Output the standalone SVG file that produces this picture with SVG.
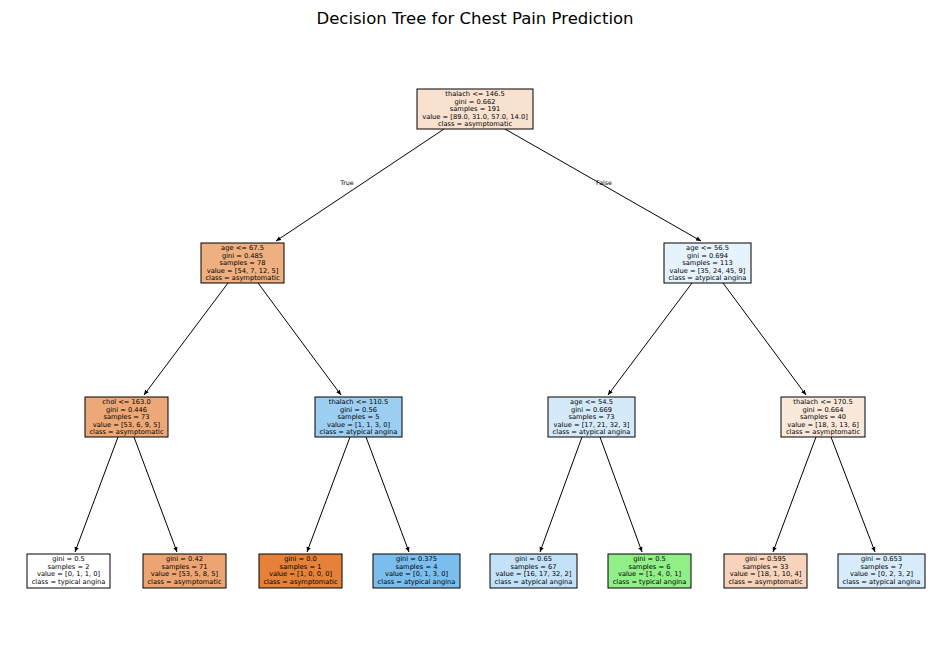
<svg xmlns="http://www.w3.org/2000/svg" width="950" height="658" viewBox="0 0 950 658">
<style>
.box{stroke:#000;stroke-width:1}
.t{font-family:"DejaVu Sans",sans-serif;font-size:6.7px;fill:#000;text-anchor:middle}
.e{stroke:#000;stroke-width:1;fill:none;marker-end:url(#ah)}
.lbl{font-family:"DejaVu Sans",sans-serif;font-size:6.3px;fill:#000;text-anchor:middle}
.title{font-family:"DejaVu Sans",sans-serif;font-size:16.5px;fill:#000;text-anchor:middle}
</style>
<defs>
<marker id="ah" markerWidth="6" markerHeight="6" refX="5" refY="3" orient="auto" markerUnits="userSpaceOnUse">
<path d="M0,0.8 L5,3 L0,5.2 Z" fill="#000"/>
</marker>
</defs>
<rect width="950" height="658" fill="#fff"/>
<text class="title" x="475" y="24">Decision Tree for Chest Pain Prediction</text>
<g id="connectors">
<path class="e" d="M444,129 L276,241"/>
<path class="e" d="M505,129 L701,241"/>
<path class="e" d="M228,283 L144,395"/>
<path class="e" d="M258,283 L341,395"/>
<path class="e" d="M692,283 L608,395"/>
<path class="e" d="M723,283 L806,395"/>
<path class="e" d="M118,437 L75,552"/>
<path class="e" d="M134,437 L177,552"/>
<path class="e" d="M350,437 L307,552"/>
<path class="e" d="M366,437 L409,552"/>
<path class="e" d="M582,437 L540,552"/>
<path class="e" d="M600,437 L642,552"/>
<path class="e" d="M816,437 L773,552"/>
<path class="e" d="M831,437 L875,552"/>
<text class="lbl" x="347" y="185">True</text>
<text class="lbl" x="604" y="185">False</text>
</g>
<g id="root"><rect class="box" x="417" y="89" width="116" height="40" fill="#f9e1d0"/>
<text class="t"><tspan x="475" y="96">thalach &lt;= 146.5</tspan><tspan x="475" y="103.6">gini = 0.662</tspan><tspan x="475" y="111.2">samples = 191</tspan><tspan x="475" y="118.8">value = [89.0, 31.0, 57.0, 14.0]</tspan><tspan x="475" y="126.4">class = asymptomatic</tspan></text></g>
<g id="n1"><rect class="box" x="201" y="243" width="83" height="40" fill="#eeaf81"/>
<text class="t"><tspan x="242.5" y="250">age &lt;= 67.5</tspan><tspan x="242.5" y="257.6">gini = 0.485</tspan><tspan x="242.5" y="265.2">samples = 78</tspan><tspan x="242.5" y="272.8">value = [54, 7, 12, 5]</tspan><tspan x="242.5" y="280.4">class = asymptomatic</tspan></text></g>
<g id="n2"><rect class="box" x="664" y="243" width="87" height="40" fill="#e6f3fc"/>
<text class="t"><tspan x="707.5" y="250">age &lt;= 56.5</tspan><tspan x="707.5" y="257.6">gini = 0.694</tspan><tspan x="707.5" y="265.2">samples = 113</tspan><tspan x="707.5" y="272.8">value = [35, 24, 45, 9]</tspan><tspan x="707.5" y="280.4">class = atypical angina</tspan></text></g>
<g id="n3"><rect class="box" x="85" y="397" width="83" height="40" fill="#eda877"/>
<text class="t"><tspan x="126.5" y="404">chol &lt;= 163.0</tspan><tspan x="126.5" y="411.6">gini = 0.446</tspan><tspan x="126.5" y="419.2">samples = 73</tspan><tspan x="126.5" y="426.8">value = [53, 6, 9, 5]</tspan><tspan x="126.5" y="434.4">class = asymptomatic</tspan></text></g>
<g id="n4"><rect class="box" x="315" y="397" width="87" height="40" fill="#9ccef2"/>
<text class="t"><tspan x="358.5" y="404">thalach &lt;= 110.5</tspan><tspan x="358.5" y="411.6">gini = 0.56</tspan><tspan x="358.5" y="419.2">samples = 5</tspan><tspan x="358.5" y="426.8">value = [1, 1, 3, 0]</tspan><tspan x="358.5" y="434.4">class = atypical angina</tspan></text></g>
<g id="n5"><rect class="box" x="548" y="397" width="87" height="40" fill="#d5eaf9"/>
<text class="t"><tspan x="591.5" y="404">age &lt;= 54.5</tspan><tspan x="591.5" y="411.6">gini = 0.669</tspan><tspan x="591.5" y="419.2">samples = 73</tspan><tspan x="591.5" y="426.8">value = [17, 21, 32, 3]</tspan><tspan x="591.5" y="434.4">class = atypical angina</tspan></text></g>
<g id="n6"><rect class="box" x="781" y="397" width="84" height="40" fill="#fae8da"/>
<text class="t"><tspan x="823" y="404">thalach &lt;= 170.5</tspan><tspan x="823" y="411.6">gini = 0.664</tspan><tspan x="823" y="419.2">samples = 40</tspan><tspan x="823" y="426.8">value = [18, 3, 13, 6]</tspan><tspan x="823" y="434.4">class = asymptomatic</tspan></text></g>
<g id="l1"><rect class="box" x="27" y="554" width="83" height="34" fill="#ffffff"/>
<text class="t"><tspan x="68.5" y="561">gini = 0.5</tspan><tspan x="68.5" y="568.6">samples = 2</tspan><tspan x="68.5" y="576.2">value = [0, 1, 1, 0]</tspan><tspan x="68.5" y="583.8">class = typical angina</tspan></text></g>
<g id="l2"><rect class="box" x="143" y="554" width="83" height="34" fill="#eca572"/>
<text class="t"><tspan x="184.5" y="561">gini = 0.42</tspan><tspan x="184.5" y="568.6">samples = 71</tspan><tspan x="184.5" y="576.2">value = [53, 5, 8, 5]</tspan><tspan x="184.5" y="583.8">class = asymptomatic</tspan></text></g>
<g id="l3"><rect class="box" x="259" y="554" width="83" height="34" fill="#e58139"/>
<text class="t"><tspan x="300.5" y="561">gini = 0.0</tspan><tspan x="300.5" y="568.6">samples = 1</tspan><tspan x="300.5" y="576.2">value = [1, 0, 0, 0]</tspan><tspan x="300.5" y="583.8">class = asymptomatic</tspan></text></g>
<g id="l4"><rect class="box" x="373" y="554" width="87" height="34" fill="#7bbeee"/>
<text class="t"><tspan x="416.5" y="561">gini = 0.375</tspan><tspan x="416.5" y="568.6">samples = 4</tspan><tspan x="416.5" y="576.2">value = [0, 1, 3, 0]</tspan><tspan x="416.5" y="583.8">class = atypical angina</tspan></text></g>
<g id="l5"><rect class="box" x="490" y="554" width="87" height="34" fill="#c4e2f7"/>
<text class="t"><tspan x="533.5" y="561">gini = 0.65</tspan><tspan x="533.5" y="568.6">samples = 67</tspan><tspan x="533.5" y="576.2">value = [16, 17, 32, 2]</tspan><tspan x="533.5" y="583.8">class = atypical angina</tspan></text></g>
<g id="l6"><rect class="box" x="608" y="554" width="83" height="34" fill="#91ef88"/>
<text class="t"><tspan x="649.5" y="561">gini = 0.5</tspan><tspan x="649.5" y="568.6">samples = 6</tspan><tspan x="649.5" y="576.2">value = [1, 4, 0, 1]</tspan><tspan x="649.5" y="583.8">class = typical angina</tspan></text></g>
<g id="l7"><rect class="box" x="724" y="554" width="83" height="34" fill="#f6d3ba"/>
<text class="t"><tspan x="765.5" y="561">gini = 0.595</tspan><tspan x="765.5" y="568.6">samples = 33</tspan><tspan x="765.5" y="576.2">value = [18, 1, 10, 4]</tspan><tspan x="765.5" y="583.8">class = asymptomatic</tspan></text></g>
<g id="l8"><rect class="box" x="838" y="554" width="87" height="34" fill="#d7ebfa"/>
<text class="t"><tspan x="881.5" y="561">gini = 0.653</tspan><tspan x="881.5" y="568.6">samples = 7</tspan><tspan x="881.5" y="576.2">value = [0, 2, 3, 2]</tspan><tspan x="881.5" y="583.8">class = atypical angina</tspan></text></g>
</svg>
